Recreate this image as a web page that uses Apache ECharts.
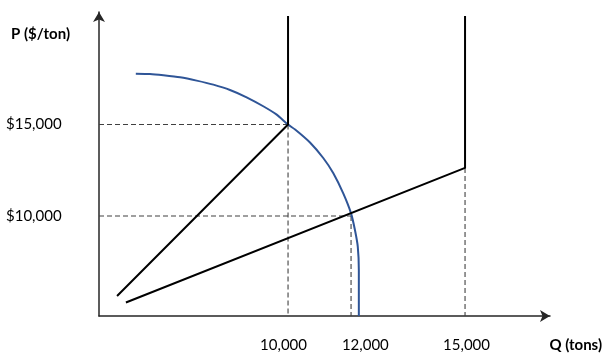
<!DOCTYPE html>
<html>
<head>
<meta charset="utf-8">
<script src="https://cdn.jsdelivr.net/npm/echarts@6/dist/echarts.min.js"></script>
<style>
  html, body { margin: 0; padding: 0; background: #ffffff; }
  #chart { width: 607px; height: 358px; }
</style>
</head>
<body>
<div id="chart"></div>
<script>
// ---- data ----
const quantityTicks = [10000, 12000, 15000];
const priceTicks = [10000, 15000];

// Supply S1: sloped section then vertical at 10,000 tons
const s1Q = [5170, 10000, 10000];
const s1P = [5630, 15000, 20930];

// Supply S2: sloped section then vertical at 15,000 tons
const s2Q = [5420, 15000, 15000];
const s2P = [5280, 12630, 20930];

// Demand curve (blue), points read along the drawn arc
const demandQ = [5700, 6100, 6480, 6950, 7420, 7890, 8360, 8830, 9300, 9680, 10000,
                 10200, 10620, 11000, 11280, 11560, 11780, 11890, 11970, 12000, 12000];
const demandP = [17780, 17760, 17690, 17580, 17400, 17180, 16890, 16490, 16000, 15540, 15000,
                 14730, 14020, 13160, 12340, 11240, 10150, 9240, 8330, 7050, 4540];

// Dashed guides: equilibrium / kink points
const hGuideQ = [10000, 11780];
const hGuideP = [15000, 10000];
const vGuideQ = [10000, 11780, 15000];
const vGuideP = [15000, 10000, 12630];

const supplyNames = ['S1', 'S2'];

// ---- axis ranges ----
const Q_MIN = 4660, Q_MAX = 17400;
const P_MIN = 4540, P_MAX = 21150;

const FONT = 'Lato, "Open Sans", "Liberation Sans", sans-serif';
const fmt = v => String(Math.round(v)).replace(/\B(?=(\d{3})+(?!\d))/g, ',');
const zip = (a, b) => a.map((x, i) => [x, b[i]]);

const labelShift = { 10000: 'a', 12000: 'b', 15000: 'c' };
const baseTxt = { fontFamily: FONT, fontSize: 15, color: '#000' };

const dashStyle = { color: '#404040', width: 1.1, type: [5, 3] };
const guideSeries = [];
hGuideQ.forEach((q, i) => {
  guideSeries.push({
    type: 'line', silent: true, symbol: 'none', z: 1,
    lineStyle: dashStyle,
    data: [[Q_MIN, hGuideP[i]], [q, hGuideP[i]]]
  });
});
vGuideQ.forEach((q, i) => {
  guideSeries.push({
    type: 'line', silent: true, symbol: 'none', z: 1,
    lineStyle: dashStyle,
    data: [[q, vGuideP[i]], [q, P_MIN]]
  });
});

function supplyData(qs, ps, idx, dist, dy) {
  return qs.map((q, i) => {
    const item = { value: [q, ps[i]] };
    if (i === qs.length - 1) {
      item.label = {
        show: true, position: 'right', distance: dist, offset: [0, dy],
        formatter: '{s|' + supplyNames[idx].charAt(0) + '}{n|' + supplyNames[idx].slice(1) + '}',
        rich: {
          s: { fontFamily: FONT, fontSize: 15, color: '#000' },
          n: { fontFamily: FONT, fontSize: 10, color: '#000', padding: [7, 0, 0, 0] }
        }
      };
    }
    return item;
  });
}

const chart = echarts.init(document.getElementById('chart'), null, { renderer: 'canvas' });
chart.setOption({
  animation: false,
  backgroundColor: '#ffffff',
  grid: { left: 99, right: 57, top: 12, bottom: 42, containLabel: false },
  xAxis: {
    type: 'value', min: Q_MIN, max: Q_MAX,
    name: 'Q (tons)', nameLocation: 'end', nameGap: 52,
    nameTextStyle: { fontFamily: FONT, fontSize: 15, fontWeight: 'bold', color: '#000',
                     align: 'right', verticalAlign: 'top', padding: [22, 0, 0, 0] },
    axisLine: { show: true, symbol: ['none', 'arrow'], symbolSize: [9, 10],
                lineStyle: { color: '#262626', width: 1.5 } },
    axisTick: { show: false },
    splitLine: { show: false },
    axisLabel: {
      customValues: quantityTicks, margin: 22,
      fontFamily: FONT, fontSize: 15, color: '#000',
      formatter: v => '{' + labelShift[v] + '|' + fmt(v) + '}',
      rich: {
        a: Object.assign({ padding: [0, 9, 0, 0] }, baseTxt),
        b: Object.assign({ padding: [0, 0, 0, 13] }, baseTxt),
        c: Object.assign({ padding: [0, 0, 0, 3] }, baseTxt)
      }
    }
  },
  yAxis: {
    type: 'value', min: P_MIN, max: P_MAX,
    name: 'P ($/ton)', nameLocation: 'end', nameGap: -22,
    nameTextStyle: { fontFamily: FONT, fontSize: 15, fontWeight: 'bold', color: '#000',
                     align: 'right', verticalAlign: 'middle', padding: [0, 29, 0, 0] },
    axisLine: { show: true, symbol: ['none', 'arrow'], symbolSize: [9, 10],
                lineStyle: { color: '#262626', width: 1.5 } },
    axisTick: { show: false },
    splitLine: { show: false },
    axisLabel: {
      customValues: priceTicks, margin: 93, align: 'left', verticalAlign: 'middle',
      padding: [9, 0, 0, 0],
      fontFamily: FONT, fontSize: 15, color: '#000',
      formatter: v => '$' + fmt(v)
    }
  },
  series: guideSeries.concat([
    {
      name: 'Demand', type: 'line', symbol: 'none', smooth: 0.2, z: 3,
      lineStyle: { color: '#2F5597', width: 2 },
      data: zip(demandQ, demandP)
    },
    {
      name: 'S1', type: 'line', symbol: 'none', z: 4,
      lineStyle: { color: '#000', width: 2 },
      data: supplyData(s1Q, s1P, 0, 20, 7)
    },
    {
      name: 'S2', type: 'line', symbol: 'none', z: 4,
      lineStyle: { color: '#000', width: 2 },
      data: supplyData(s2Q, s2P, 1, 31, 16)
    }
  ])
});
</script>
</body>
</html>
